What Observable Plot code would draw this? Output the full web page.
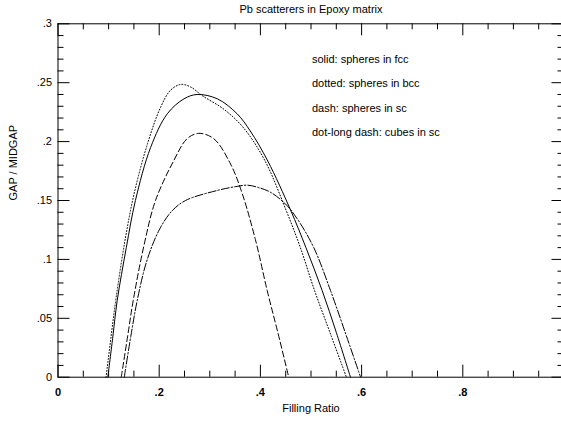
<!DOCTYPE html>
<html>
<head>
<meta charset="utf-8">
<script src="https://cdn.jsdelivr.net/npm/d3@7"></script>
<script src="https://cdn.jsdelivr.net/npm/@observablehq/plot@0.6"></script>
<style>
  body { margin: 0; background: #fff; }
  svg { display: block; }
</style>
</head>
<body>
<div id="chart"></div>
<script>
// ---- texts ----
const title = "Pb scatterers in Epoxy matrix";
const xLabel = "Filling Ratio";
const yLabel = "GAP / MIDGAP";
const legendLines = [
  "solid: spheres in fcc",
  "dotted: spheres in bcc",
  "dash: spheres in sc",
  "dot-long dash: cubes in sc"
];

// ---- tick labels ----
const xTickValues = [0, 0.2, 0.4, 0.6, 0.8, 1];
const xTickLabels = ["0", ".2", ".4", ".6", ".8", "1"];
const yTickValues = [0, 0.05, 0.1, 0.15, 0.2, 0.25, 0.3];
const yTickLabels = ["0", ".05", ".1", ".15", ".2", ".25", ".3"];

// ---- series (filling ratio, gap/midgap) ----
const fccX = [0.0985, 0.108, 0.117, 0.135, 0.153, 0.183, 0.216, 0.249, 0.275, 0.315, 0.354, 0.38, 0.4146, 0.4595, 0.49, 0.522, 0.55, 0.578];
const fccY = [0, 0.033, 0.065, 0.11, 0.150, 0.195, 0.2236, 0.2363, 0.240, 0.2363, 0.2236, 0.209, 0.1835, 0.142, 0.11, 0.0736, 0.038, 0];

const bccX = [0.095, 0.105, 0.115, 0.132, 0.15, 0.176, 0.2026, 0.222, 0.242, 0.262, 0.285, 0.3277, 0.367, 0.4087, 0.4505, 0.479, 0.507, 0.54, 0.570];
const bccY = [0, 0.035, 0.068, 0.115, 0.155, 0.197, 0.229, 0.2434, 0.2485, 0.2464, 0.239, 0.2275, 0.2115, 0.184, 0.142, 0.11, 0.0736, 0.035, 0];

const scX = [0.125, 0.137, 0.1486, 0.17, 0.1927, 0.229, 0.255, 0.278, 0.308, 0.341, 0.364, 0.39, 0.4134, 0.435, 0.456];
const scY = [0, 0.033, 0.065, 0.112, 0.150, 0.184, 0.2024, 0.207, 0.2024, 0.181, 0.156, 0.117, 0.0736, 0.037, 0];

const cubeX = [0.131, 0.144, 0.1565, 0.175, 0.2, 0.225, 0.252, 0.3146, 0.354, 0.375, 0.40, 0.42, 0.4496, 0.4727, 0.5055, 0.5385, 0.57, 0.598];
const cubeY = [0, 0.035, 0.065, 0.098, 0.125, 0.141, 0.150, 0.1585, 0.162, 0.163, 0.1605, 0.157, 0.147, 0.1345, 0.110, 0.0736, 0.035, 0];

// ---- layout ----
const W = 561, H = 421;
const mL = 57.5, mR = -2.5, mT = 23.3, mB = 44.3;
const innerW = W - mL - mR, innerH = H - mT - mB;
const minorLen = 6, majorLen = 12;

const pts = (xs, ys) => xs.map((x, i) => ({x, y: ys[i]}));
const xMinor = d3.range(21).filter(i => i % 4).map(i => i / 20);
const yMinor = d3.range(31).filter(i => i % 5).map(i => i / 100);
const font = 11;

const lineOpts = {x: "x", y: "y", curve: "catmull-rom", stroke: "black", strokeWidth: 1};

const chart = Plot.plot({
  width: W,
  height: H,
  marginLeft: mL,
  marginRight: mR,
  marginTop: mT,
  marginBottom: mB,
  style: {fontFamily: "'Liberation Sans', Arial, sans-serif", fontSize: font + "px", background: "white", color: "black"},
  x: {domain: [0, 1], axis: null},
  y: {domain: [0, 0.3], axis: null},
  marks: [
    Plot.frame({stroke: "black", strokeWidth: 1}),
    // ticks, inward on all four sides
    Plot.tickX(xMinor, {x: d => d, insetTop: innerH - minorLen, stroke: "black"}),
    Plot.tickX(xMinor, {x: d => d, insetBottom: innerH - minorLen, stroke: "black"}),
    Plot.tickX(xTickValues, {x: d => d, insetTop: innerH - majorLen, stroke: "black"}),
    Plot.tickX(xTickValues, {x: d => d, insetBottom: innerH - majorLen, stroke: "black"}),
    Plot.tickY(yMinor, {y: d => d, insetRight: innerW - minorLen, stroke: "black"}),
    Plot.tickY(yMinor, {y: d => d, insetLeft: innerW - minorLen, stroke: "black"}),
    Plot.tickY(yTickValues, {y: d => d, insetRight: innerW - majorLen, stroke: "black"}),
    Plot.tickY(yTickValues, {y: d => d, insetLeft: innerW - majorLen, stroke: "black"}),
    // tick labels
    Plot.text(xTickValues, {x: d => d, text: (d, i) => xTickLabels[i], frameAnchor: "bottom", dy: 18.5, fontWeight: "bold", fontSize: font, fill: "black"}),
    Plot.text(yTickValues, {y: d => d, text: (d, i) => yTickLabels[i], frameAnchor: "left", textAnchor: "end", dx: -6, fontSize: font, fill: "black"}),
    // curves
    Plot.line(pts(fccX, fccY), {...lineOpts}),
    Plot.line(pts(bccX, bccY), {...lineOpts, strokeDasharray: "1,2"}),
    Plot.line(pts(scX, scY), {...lineOpts, strokeDasharray: "6,3"}),
    Plot.line(pts(cubeX, cubeY), {...lineOpts, strokeDasharray: "8,2,1.5,2"}),
    // texts
    Plot.text([title], {frameAnchor: "top", dy: -18.5, fontSize: font, fill: "black"}),
    Plot.text([xLabel], {frameAnchor: "bottom", dy: 35, fontSize: font, fill: "black"}),
    Plot.text([yLabel], {frameAnchor: "left", dx: -45, rotate: -90, fontSize: font, fill: "black"}),
    Plot.text([legendLines.join("\n")], {frameAnchor: "top-left", dx: 254, dy: 22.5, textAnchor: "start", lineHeight: 2.19, fontSize: font, fill: "black"})
  ]
});
document.getElementById("chart").appendChild(chart);
</script>
</body>
</html>
